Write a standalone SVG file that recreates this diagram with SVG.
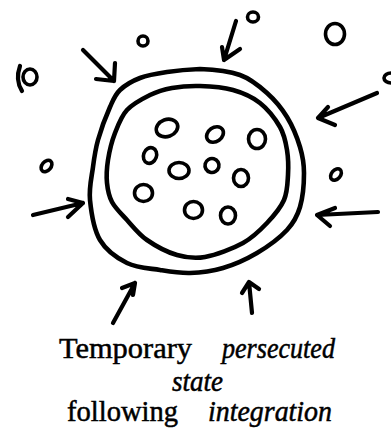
<svg xmlns="http://www.w3.org/2000/svg" width="391" height="430" viewBox="0 0 391 430">
<style>
.ln{fill:none;stroke:#000;stroke-width:4.2;stroke-linecap:round;stroke-linejoin:round}
.ring{fill:none;stroke:#000;stroke-width:4.6;stroke-linejoin:round}
.dot{fill:none;stroke:#000;stroke-width:3.6}
.t{font-family:"Liberation Serif","Times New Roman",serif;font-size:29px;fill:#000;stroke:#000;stroke-width:0.5}
.i{font-style:italic}
</style>
<rect width="391" height="430" fill="#fff"/>
<g id="cell">
<path class="ring" d="M200,69 C212.2,69.5 228.8,71 240,75 C251.2,79 259.2,86 267,93 C274.8,100 281.5,108 287,117 C292.5,126 297.2,137.7 300,147 C302.8,156.3 304,163 304,173 C304,183 302.8,197.5 300,207 C297.2,216.5 294.2,222.3 287,230 C279.8,237.7 267.7,246.7 257,253 C246.3,259.3 234.2,264.7 223,268 C211.8,271.3 200.5,272.7 190,273 C179.5,273.3 170.5,271.7 160,270 C149.5,268.3 137,268 127,263 C117,258 106.2,250.5 100,240 C93.8,229.5 91.2,212.2 90,200 C88.8,187.8 91.7,177 93,167 C94.3,157 95.2,150 98,140 C100.8,130 106.3,115.3 110,107 C113.7,98.7 115,94.8 120,90 C125,85.2 132.2,81 140,78 C147.8,75 157,73.5 167,72 C177,70.5 187.8,69.5 200,69 Z"/>
<path class="ring" d="M200,86 C210.2,86.3 223,87.2 233,90 C243,92.8 252.2,96.8 260,103 C267.8,109.2 275.5,119.2 280,127 C284.5,134.8 285.7,142 287,150 C288.3,158 288.5,166.7 288,175 C287.5,183.3 287.5,192 284,200 C280.5,208 273.8,215.8 267,223 C260.2,230.2 253.3,237.3 243,243 C232.7,248.7 216,255 205,257 C194,259 186.7,257.8 177,255 C167.3,252.2 155.3,245.8 147,240 C138.7,234.2 132.8,226.3 127,220 C121.2,213.7 115.3,208.2 112,202 C108.7,195.8 107.7,190 107,183 C106.3,176 106.7,168.3 108,160 C109.3,151.7 111.8,141.3 115,133 C118.2,124.7 121.2,116.3 127,110 C132.8,103.7 142.5,98.7 150,95 C157.5,91.3 163.7,89.5 172,88 C180.3,86.5 189.8,85.7 200,86 Z"/>
</g>
<g id="inner-particles">
<ellipse class="dot" cx="167" cy="128" rx="11" ry="8.5" transform="rotate(-20 167 128)"/>
<ellipse class="dot" cx="215" cy="134.5" rx="9" ry="7" transform="rotate(-35 215 134.5)"/>
<ellipse class="dot" cx="257" cy="139" rx="8.5" ry="9.5"/>
<ellipse class="dot" cx="150" cy="155.5" rx="6.5" ry="8" transform="rotate(20 150 155.5)"/>
<ellipse class="dot" cx="179" cy="170.5" rx="10" ry="8"/>
<ellipse class="dot" cx="212" cy="165.5" rx="7" ry="7" transform="rotate(-30 212 165.5)"/>
<ellipse class="dot" cx="241" cy="178" rx="7.5" ry="8.5"/>
<ellipse class="dot" cx="143.5" cy="193" rx="9" ry="8.5"/>
<ellipse class="dot" cx="193.5" cy="210" rx="9" ry="8.5"/>
<ellipse class="dot" cx="228" cy="215.5" rx="7.5" ry="8.5"/>
</g>
<g id="outer-particles">
<ellipse class="dot" cx="143" cy="41" rx="5" ry="5"/>
<ellipse class="dot" cx="253" cy="17" rx="5.5" ry="5"/>
<ellipse class="dot" cx="335" cy="34" rx="9.5" ry="10.5"/>
<ellipse class="dot" cx="30" cy="77" rx="7" ry="8"/>
<path class="ln" d="M20,66 Q15,80 22,91"/>
<ellipse class="dot" cx="391" cy="78" rx="7" ry="5"/>
<ellipse class="dot" cx="46.5" cy="166" rx="6.5" ry="4.5" transform="rotate(-50 46.5 166)"/>
<ellipse class="dot" cx="336" cy="174.5" rx="6.5" ry="4.5" transform="rotate(-50 336 174.5)"/>
</g>
<g id="connectors">
<path class="ln" d="M83,50 L114,81 M96,79 L114,81 L115,63"/>
<path class="ln" d="M236,21 L224,60 M222,47 L224,60 L240,49"/>
<path class="ln" d="M377,93 L318,118 M328,107 L318,118 L335,125"/>
<path class="ln" d="M33,215 L83,203 M68,199 L83,203 L68,217"/>
<path class="ln" d="M378,212 L317,215 M335,208 L317,215 L330,226"/>
<path class="ln" d="M113,323 L135,283 M122,288 L135,283 L133,295"/>
<path class="ln" d="M252,313 L249,282 M242,293 L249,282 L259,289"/>
</g>
<g id="caption">
<text class="t" x="59" y="358" textLength="133" lengthAdjust="spacingAndGlyphs">Temporary</text>
<text class="t i" x="222" y="358" textLength="113" lengthAdjust="spacingAndGlyphs">persecuted</text>
<text class="t i" x="172" y="391" textLength="51" lengthAdjust="spacingAndGlyphs">state</text>
<text class="t" x="67" y="421" textLength="111" lengthAdjust="spacingAndGlyphs">following</text>
<text class="t i" x="208" y="421" textLength="124" lengthAdjust="spacingAndGlyphs">integration</text>
</g>
</svg>
